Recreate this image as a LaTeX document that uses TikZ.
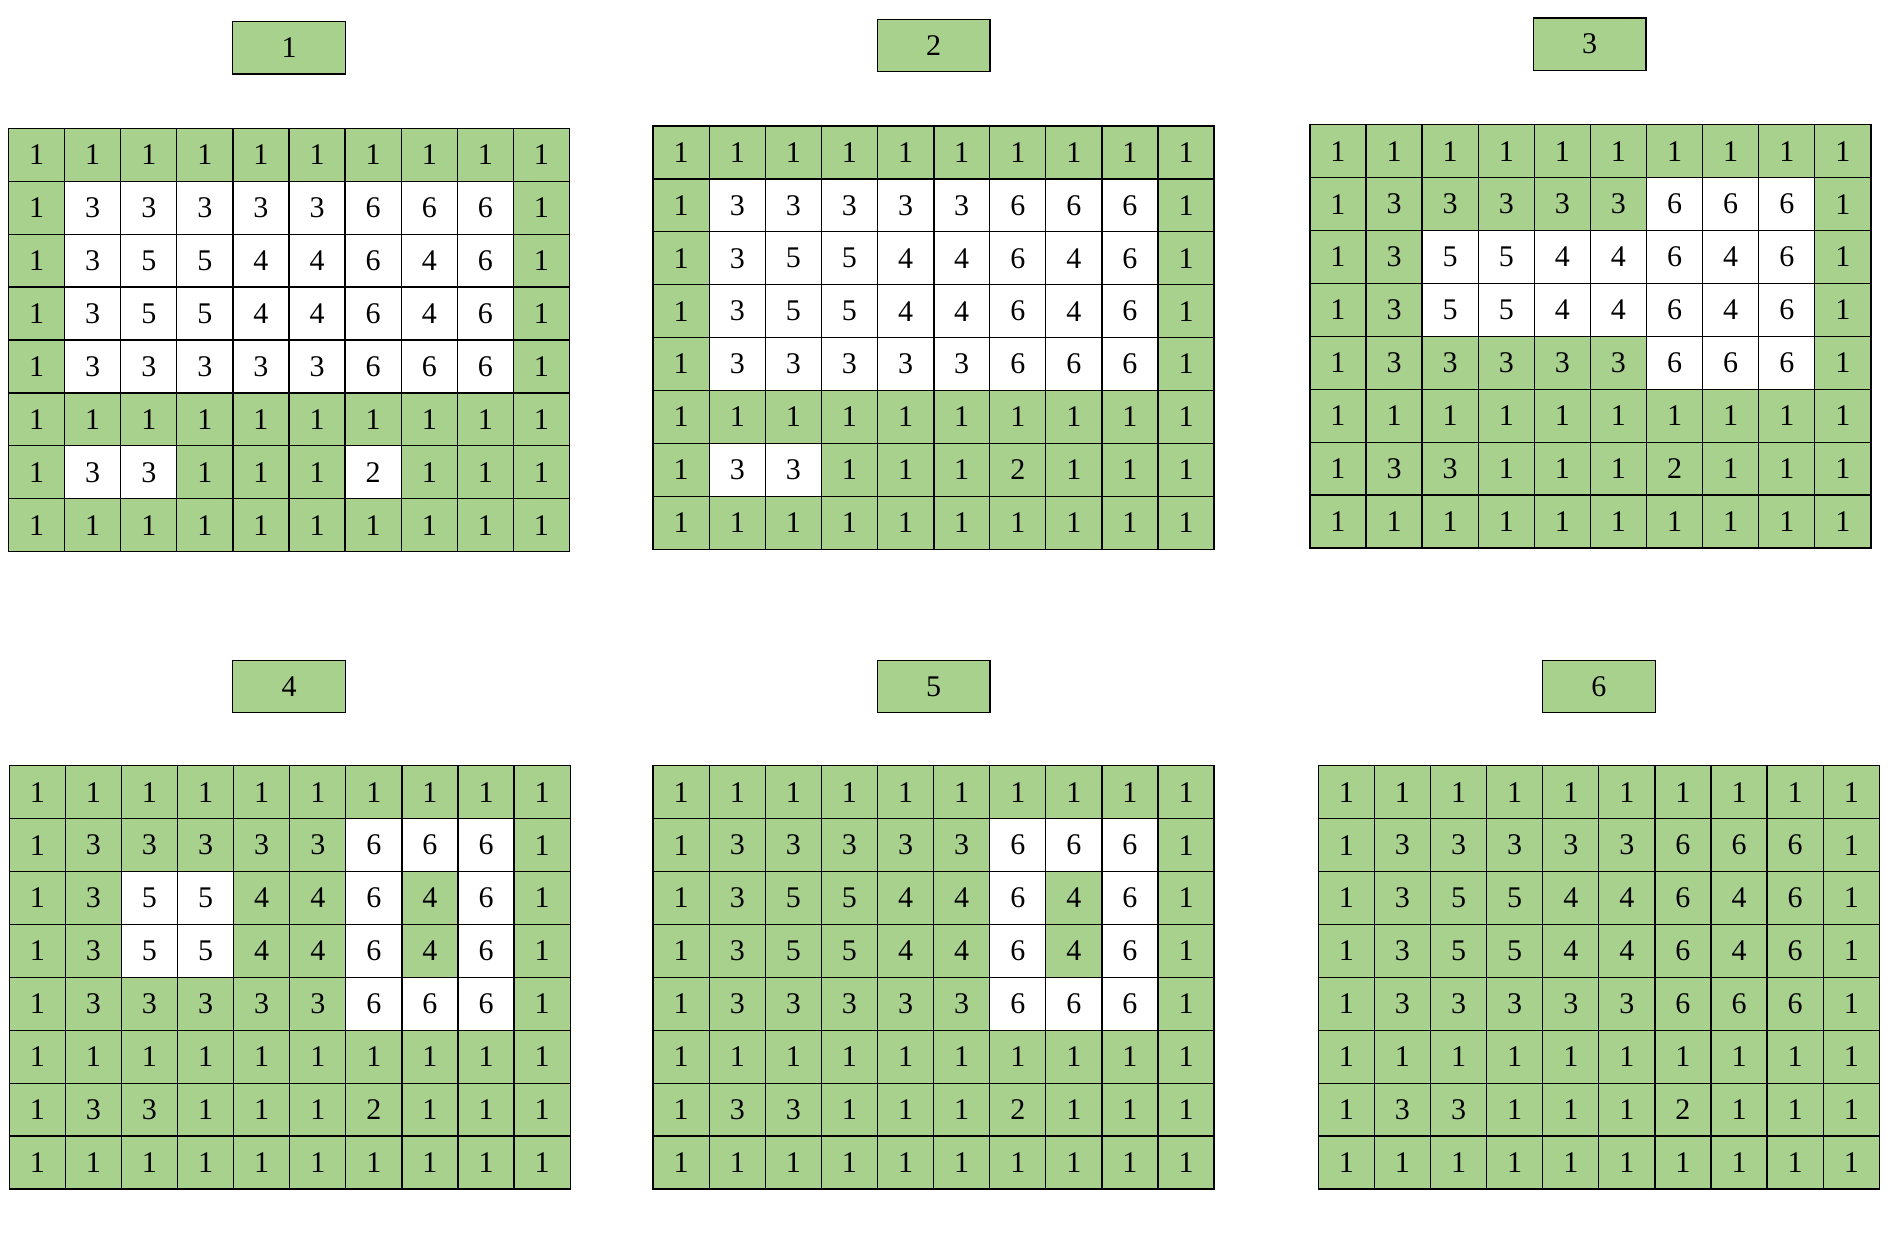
\documentclass[tikz,border=0pt]{standalone}
\usepackage{fontspec}
\setmainfont{Liberation Serif}
\definecolor{cellgreen}{HTML}{A9D18E}
\def\valarr{{1,1,1,1,1,1,1,1,1,1,
1,3,3,3,3,3,6,6,6,1,
1,3,5,5,4,4,6,4,6,1,
1,3,5,5,4,4,6,4,6,1,
1,3,3,3,3,3,6,6,6,1,
1,1,1,1,1,1,1,1,1,1,
1,3,3,1,1,1,2,1,1,1,
1,1,1,1,1,1,1,1,1,1}}
\tikzset{
  cellbox/.style={minimum width=56.1pt, minimum height=52.9pt, inner sep=0pt, outer sep=0pt,
    anchor=north west, font=\fontsize{30}{32}\selectfont},
  gridline/.style={draw=black, line width=1.3pt, line cap=rect},
  labelbox/.style={draw=black, line width=1.3pt, fill=cellgreen, minimum width=112.7pt,
    minimum height=52.1pt, inner sep=0pt, outer sep=0pt, font=\fontsize{30}{32}\selectfont}
}
\newcommand\drawgrid[4]{%
  \foreach \r in {0,...,7}{%
    \foreach \c in {0,...,9}{%
      \pgfmathtruncatemacro\cv{\valarr[\r*10+\c]}%
      \ifnum\cv>#4\relax\def\cf{white}\else\def\cf{cellgreen}\fi
      \node[cellbox, fill=\cf] (#1-\r-\c) at ({#2+\c*56.1},{#3+\r*52.9}) {\raisebox{-2pt}{\cv}};
    }%
  }%
  \foreach \c in {0,...,10}{\draw[gridline] ({#2+\c*56.1},#3) -- ++(0,423.2);}%
  \foreach \r in {0,...,8}{\draw[gridline] (#2,{#3+\r*52.9}) -- ++(561,0);}%
}
\begin{document}
\begin{tikzpicture}[x=1pt,y=-1pt]
\useasboundingbox[fill=white] (0,0) rectangle (1900,1239);
\drawgrid{ga}{8.5}{128.4}{1}
\drawgrid{gb}{653.1}{126.0}{2}
\draw[line width=2.2pt] ({653.1+5*56.1},126.0) -- ++(0,423.2);
\drawgrid{gc}{1309.9}{124.8}{3}
\drawgrid{gd}{9.2}{765.8}{4}
\drawgrid{ge}{653.1}{765.8}{5}
\drawgrid{gf}{1318.3}{765.8}{6}
\node[labelbox] (l1) at (289.0,47.9) {\raisebox{-2pt}{1}};
\node[labelbox] (l2) at (933.6,45.5) {\raisebox{-2pt}{2}};
\node[labelbox] (l3) at (1589.5,44.2) {\raisebox{-2pt}{3}};
\node[labelbox] (l4) at (289.0,686.5) {\raisebox{-2pt}{4}};
\node[labelbox] (l5) at (933.6,686.5) {\raisebox{-2pt}{5}};
\node[labelbox] (l6) at (1598.9,686.5) {\raisebox{-2pt}{6}};
\end{tikzpicture}
\end{document}
